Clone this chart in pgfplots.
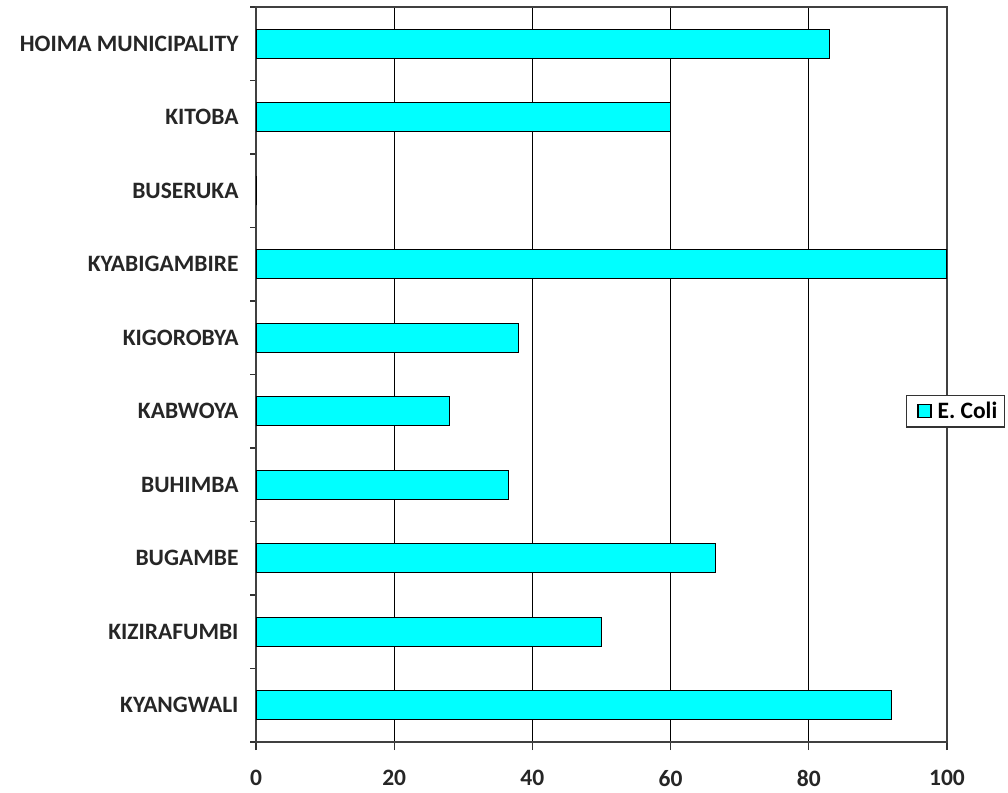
\documentclass[border=0pt]{standalone}
\usepackage{pgfplots}
\pgfplotsset{compat=1.18}
\usepackage{fontspec}
\setmainfont{Carlito}
\definecolor{aqua}{RGB}{0,255,255}
\begin{document}
\begin{tikzpicture}[x=1pt,y=1pt]
\useasboundingbox (0,0) rectangle (1008,792);
\begin{axis}[
  at={(256pt,50pt)}, anchor=south west,
  scale only axis, width=691pt, height=735pt,
  xbar, bar width=29pt,
  xmin=0, xmax=100, ymin=-0.5, ymax=9.5,
  xtick={0,20,...,100},
  ytick={0,...,9},
  yticklabels={KYANGWALI,KIZIRAFUMBI,BUGAMBE,BUHIMBA,KABWOYA,KIGOROBYA,KYABIGAMBIRE,BUSERUKA,KITOBA,HOIMA MUNICIPALITY},
  minor ytick={-0.5,0.5,...,9.5},
  major y tick style={draw=none},
  minor y tick style={line width=1.2pt, black!80},
  minor tick length=6pt,
  major tick length=8pt,
  tick align=outside,
  xtick pos=bottom, ytick pos=left,
  xmajorgrids, major x grid style={black, line width=1.3pt},
  x tick style={line width=1.3pt, black!80},
  axis line style={line width=2pt, black!75},
  /pgf/number format/assume math mode=true,
  yticklabel style={font=\fontsize{23.5}{26}\selectfont\bfseries, text=black!85, xshift=-6pt},
  xticklabel style={font=\fontsize{23.5}{26}\selectfont\bfseries, text=black!85, inner sep=0pt, yshift=-20pt},
  legend style={at={(1.012,0.45)}, anchor=center, draw=black!80, line width=1.5pt, font=\fontsize{23.5}{26}\selectfont\bfseries, inner xsep=5pt, inner ysep=5pt},
  legend image code/.code={\draw[fill=aqua, draw=black, line width=1.5pt] (6pt,-6.5pt) rectangle (19pt,6.5pt); \path (0pt,0pt) (23pt,0pt);},
]
\addplot[fill=aqua, draw=black, line width=1.3pt] coordinates {
(92,0) (50,1) (66.5,2) (36.5,3) (28,4) (38,5) (100,6) (0,7) (60,8) (83,9)};
\addlegendentry{E. Coli}
\end{axis}
\end{tikzpicture}
\end{document}
